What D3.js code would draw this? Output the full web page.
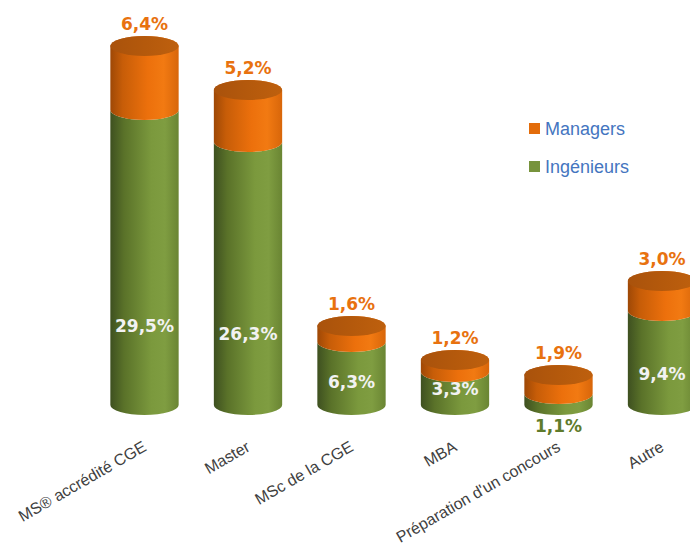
<!DOCTYPE html>
<html><head><meta charset="utf-8">
<script src="https://cdn.jsdelivr.net/npm/d3@7/dist/d3.min.js"></script>
<style>html,body{margin:0;padding:0;background:#fff;}svg{display:block;}</style>
</head><body>
<script>
const categories = ["MS® accrédité CGE","Master","MSc de la CGE","MBA","Préparation d'un concours","Autre"];
const ingenieurs = [29.5, 26.3, 6.3, 3.3, 1.1, 9.4];
const managers   = [6.4, 5.2, 1.6, 1.2, 1.9, 3.0];
const seriesNames = ["Managers","Ingénieurs"];
const fmt = v => d3.format(".1f")(v).replace(".", ",") + "%";

const W = 690, H = 546;
const svg = d3.select("body").append("svg").attr("width", W).attr("height", H);
const defs = svg.append("defs");

function grad(id, stops){
  const g = defs.append("linearGradient").attr("id", id).attr("x1","0").attr("x2","1").attr("y1","0").attr("y2","0");
  stops.forEach(([o,c]) => g.append("stop").attr("offset", o).attr("stop-color", c));
}
grad("gOrange", [["0%","#9E4806"],["18%","#C75D08"],["55%","#EC700C"],["78%","#F27A12"],["100%","#D8660A"]]);
grad("gGreen",  [["0%","#3E5020"],["20%","#5A7229"],["60%","#7B993D"],["80%","#7F9D41"],["100%","#6A8533"]]);
grad("gTop",    [["0%","#A9520C"],["50%","#B4590C"],["100%","#BE600E"]]);

const x = d3.scaleBand().domain(categories).range([92.75, 713.75]).paddingInner(0.34).paddingOuter(0.17);
const y = d3.scaleLinear().domain([0, 36]).range([405, 45]);
const rx = x.bandwidth()/2, ry = 10;

function sidePath(cx, yTop, yBot){
  return `M${cx-rx},${yTop} L${cx-rx},${yBot} A${rx},${ry} 0 0 0 ${cx+rx},${yBot} L${cx+rx},${yTop} A${rx},${ry} 0 0 1 ${cx-rx},${yTop} Z`;
}
function sidePathTop(cx, yTop, yBot){
  return `M${cx-rx},${yTop} L${cx-rx},${yBot} A${rx},${ry} 0 0 0 ${cx+rx},${yBot} L${cx+rx},${yTop} A${rx},${ry} 0 0 0 ${cx-rx},${yTop} Z`;
}

const bars = svg.append("g");
categories.forEach((c, i) => {
  const cx = x(c) + rx;
  const g = ingenieurs[i], m = managers[i];
  const g0 = bars.append("g");
  g0.append("path").attr("d", sidePath(cx, y(g), y(0))).attr("fill", "url(#gGreen)");
  g0.append("path").attr("d", sidePathTop(cx, y(g+m), y(g))).attr("fill", "url(#gOrange)");
  g0.append("ellipse").attr("cx", cx).attr("cy", y(g+m)).attr("rx", rx).attr("ry", ry).attr("fill", "url(#gTop)");

  svg.append("text").attr("x", cx).attr("y", y(g+m) - ry - 6)
    .attr("text-anchor","middle").attr("font-family","DejaVu Sans, sans-serif").attr("font-weight","bold")
    .attr("font-size", 17).attr("fill", "#E8720F").text(fmt(m));
  const h = y(0) - y(g);
  if (h > 20) {
    svg.append("text").attr("x", cx).attr("y", y(0) - (2 + 0.24*h))
      .attr("text-anchor","middle").attr("font-family","DejaVu Sans, sans-serif").attr("font-weight","bold")
      .attr("font-size", 17).attr("fill", "#F2F2F2").text(fmt(g));
  } else {
    svg.append("text").attr("x", cx).attr("y", y(0) + 27)
      .attr("text-anchor","middle").attr("font-family","DejaVu Sans, sans-serif").attr("font-weight","bold")
      .attr("font-size", 17).attr("fill", "#5F7B2C").text(fmt(g));
  }
});

const axisG = svg.append("g");
categories.forEach(c => {
  const cx = x(c) + rx + 3, ty = 450;
  axisG.append("text").attr("x", cx).attr("y", ty)
    .attr("transform", `rotate(-30 ${cx} ${ty})`)
    .attr("text-anchor","end").attr("font-family","Liberation Sans, Arial, sans-serif")
    .attr("font-size", 16).attr("fill", "#404040").text(c);
});

const legendColors = ["#E36C0A", "#77933C"];
const lg = svg.append("g");
seriesNames.forEach((s, i) => {
  const ly = 135 + i*38;
  lg.append("rect").attr("x", 529).attr("y", ly - 12).attr("width", 11).attr("height", 11).attr("fill", legendColors[i]);
  lg.append("text").attr("x", 545).attr("y", ly).attr("font-family","Liberation Sans, Arial, sans-serif")
    .attr("font-size", 18).attr("fill", "#4475C0").text(s);
});
</script>
</body></html>
